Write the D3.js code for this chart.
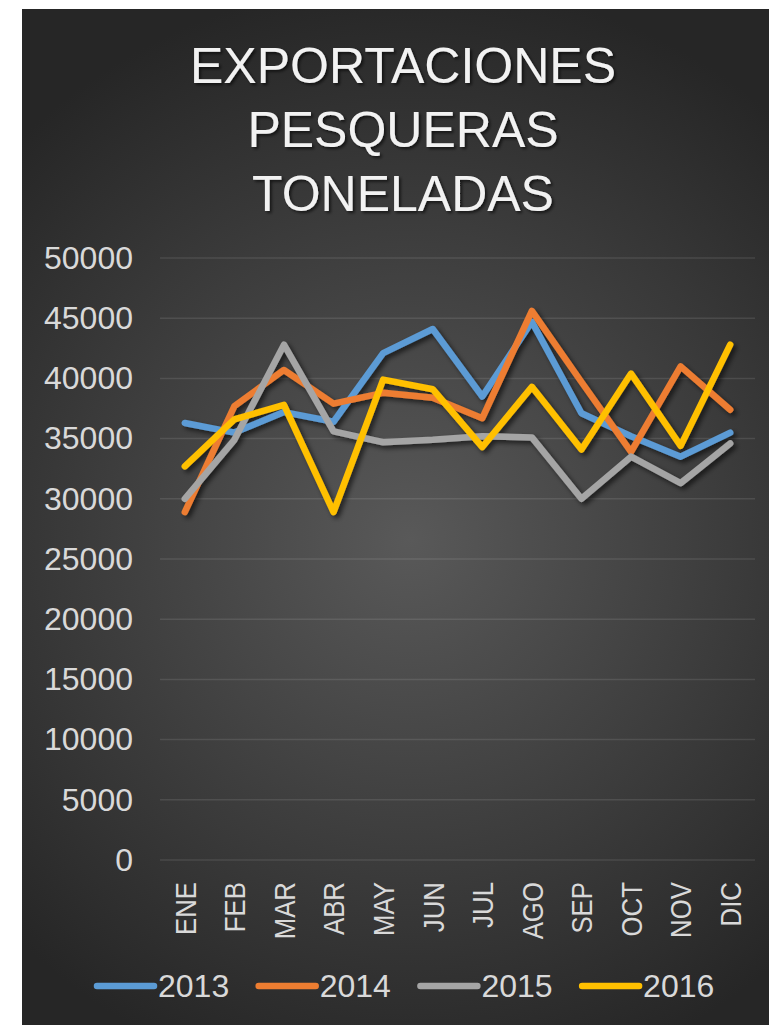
<!DOCTYPE html>
<html>
<head>
<meta charset="utf-8">
<script src="https://cdn.jsdelivr.net/npm/d3@7"></script>
<style>
  html, body { margin: 0; padding: 0; background: #ffffff; }
  svg { display: block; }
</style>
</head>
<body>
<div id="chart"></div>
<script>
// data (toneladas por mes)
const months = ['ENE', 'FEB', 'MAR', 'ABR', 'MAY', 'JUN', 'JUL', 'AGO', 'SEP', 'OCT', 'NOV', 'DIC'];
const years = ['2013', '2014', '2015', '2016'];
const v2013 = [36300, 35500, 37200, 36400, 42100, 44100, 38500, 44700, 37100, 35200, 33500, 35500];
const v2014 = [28900, 37700, 40700, 37900, 38800, 38400, 36700, 45600, 39700, 33900, 41000, 37400];
const v2015 = [30000, 34900, 42800, 35600, 34700, 34900, 35200, 35100, 30000, 33500, 31300, 34600];
const v2016 = [32700, 36600, 37800, 28900, 39900, 39100, 34300, 39300, 34100, 40400, 34400, 42800];
const yTicks = [0, 5000, 10000, 15000, 20000, 25000, 30000, 35000, 40000, 45000, 50000];
const titleLines = ['EXPORTACIONES', 'PESQUERAS', 'TONELADAS'];

const colors = ['#5B9BD5', '#ED7D31', '#A5A5A5', '#FFC000'];
const series = [v2013, v2014, v2015, v2016];

const width = 769;
const height = 1025;

const svg = d3.select('#chart')
  .append('svg')
  .attr('width', width)
  .attr('height', height);

const defs = svg.append('defs');

// background gradient, lighter in the middle
const grad = defs.append('radialGradient')
  .attr('id', 'bg')
  .attr('gradientUnits', 'userSpaceOnUse')
  .attr('cx', 410).attr('cy', 540).attr('r', 560);
grad.append('stop').attr('offset', '0%').attr('stop-color', '#595959');
grad.append('stop').attr('offset', '100%').attr('stop-color', '#262626');

const shadow = defs.append('filter')
  .attr('id', 'shadow')
  .attr('x', '-10%').attr('y', '-10%')
  .attr('width', '120%').attr('height', '130%');
shadow.append('feDropShadow')
  .attr('dx', 3).attr('dy', 3)
  .attr('stdDeviation', 2.5)
  .attr('flood-color', '#000')
  .attr('flood-opacity', 0.6);

const textShadow = defs.append('filter').attr('id', 'tshadow');
textShadow.append('feDropShadow')
  .attr('dx', 2).attr('dy', 2)
  .attr('stdDeviation', 1.5)
  .attr('flood-color', '#000')
  .attr('flood-opacity', 0.6);

// chart panel
svg.append('rect')
  .attr('x', 22).attr('y', 9)
  .attr('width', width - 22).attr('height', height - 9)
  .attr('fill', 'url(#bg)');

// scales
const x = d3.scaleBand().domain(months).range([160, 755]);
const y = d3.scaleLinear().domain([0, 50000]).range([860, 258]);
const cx = d => x(d) + x.bandwidth() / 2;

// title
svg.append('g')
  .attr('filter', 'url(#tshadow)')
  .selectAll('text')
  .data(titleLines)
  .join('text')
  .attr('x', 403)
  .attr('y', (d, i) => 83 + i * 64)
  .attr('text-anchor', 'middle')
  .attr('font-family', 'Liberation Sans, Arial, sans-serif')
  .attr('font-size', 50)
  .attr('fill', '#f2f2f2')
  .text(d => d);

// gridlines
svg.append('g')
  .selectAll('line')
  .data(yTicks)
  .join('line')
  .attr('x1', 160).attr('x2', 755)
  .attr('y1', d => y(d)).attr('y2', d => y(d))
  .attr('stroke', '#ffffff')
  .attr('stroke-opacity', 0.1)
  .attr('stroke-width', 1.5);

// y axis
const yAxis = svg.append('g')
  .attr('transform', 'translate(160,0)')
  .call(d3.axisLeft(y).tickValues(yTicks).tickSize(0).tickPadding(27).tickFormat(d3.format('d')));
yAxis.select('.domain').remove();
yAxis.selectAll('text')
  .attr('font-family', 'Liberation Sans, Arial, sans-serif')
  .attr('font-size', 32)
  .attr('fill', '#d9d9d9');

// x axis
const xAxis = svg.append('g')
  .attr('transform', 'translate(0,' + y(0) + ')')
  .call(d3.axisBottom(x).tickSize(0));
xAxis.select('.domain').remove();
xAxis.selectAll('text')
  .attr('font-family', 'Liberation Sans, Arial, sans-serif')
  .attr('font-size', 30)
  .attr('fill', '#d9d9d9')
  .attr('text-anchor', 'end')
  .attr('x', 0).attr('y', 0).attr('dy', '0.36em')
  .attr('transform', 'translate(0,22) rotate(-90) scale(0.86,1)');

// lines
const line = d3.line()
  .x((d, i) => cx(months[i]))
  .y(d => y(d));

svg.append('g')
  .attr('filter', 'url(#shadow)')
  .selectAll('path')
  .data(series)
  .join('path')
  .attr('d', line)
  .attr('fill', 'none')
  .attr('stroke', (d, i) => colors[i])
  .attr('stroke-width', 6.5)
  .attr('stroke-linecap', 'round')
  .attr('stroke-linejoin', 'round');

// legend
const legend = svg.append('g')
  .selectAll('g')
  .data(years)
  .join('g')
  .attr('transform', (d, i) => 'translate(' + (97 + i * 161.7) + ',986)');

legend.append('line')
  .attr('x1', 0).attr('x2', 57)
  .attr('y1', 0).attr('y2', 0)
  .attr('stroke', (d, i) => colors[i])
  .attr('stroke-width', 6.5)
  .attr('stroke-linecap', 'round');

legend.append('text')
  .attr('x', 61).attr('y', 11)
  .attr('font-family', 'Liberation Sans, Arial, sans-serif')
  .attr('font-size', 32)
  .attr('fill', '#d9d9d9')
  .text(d => d);
</script>
</body>
</html>
